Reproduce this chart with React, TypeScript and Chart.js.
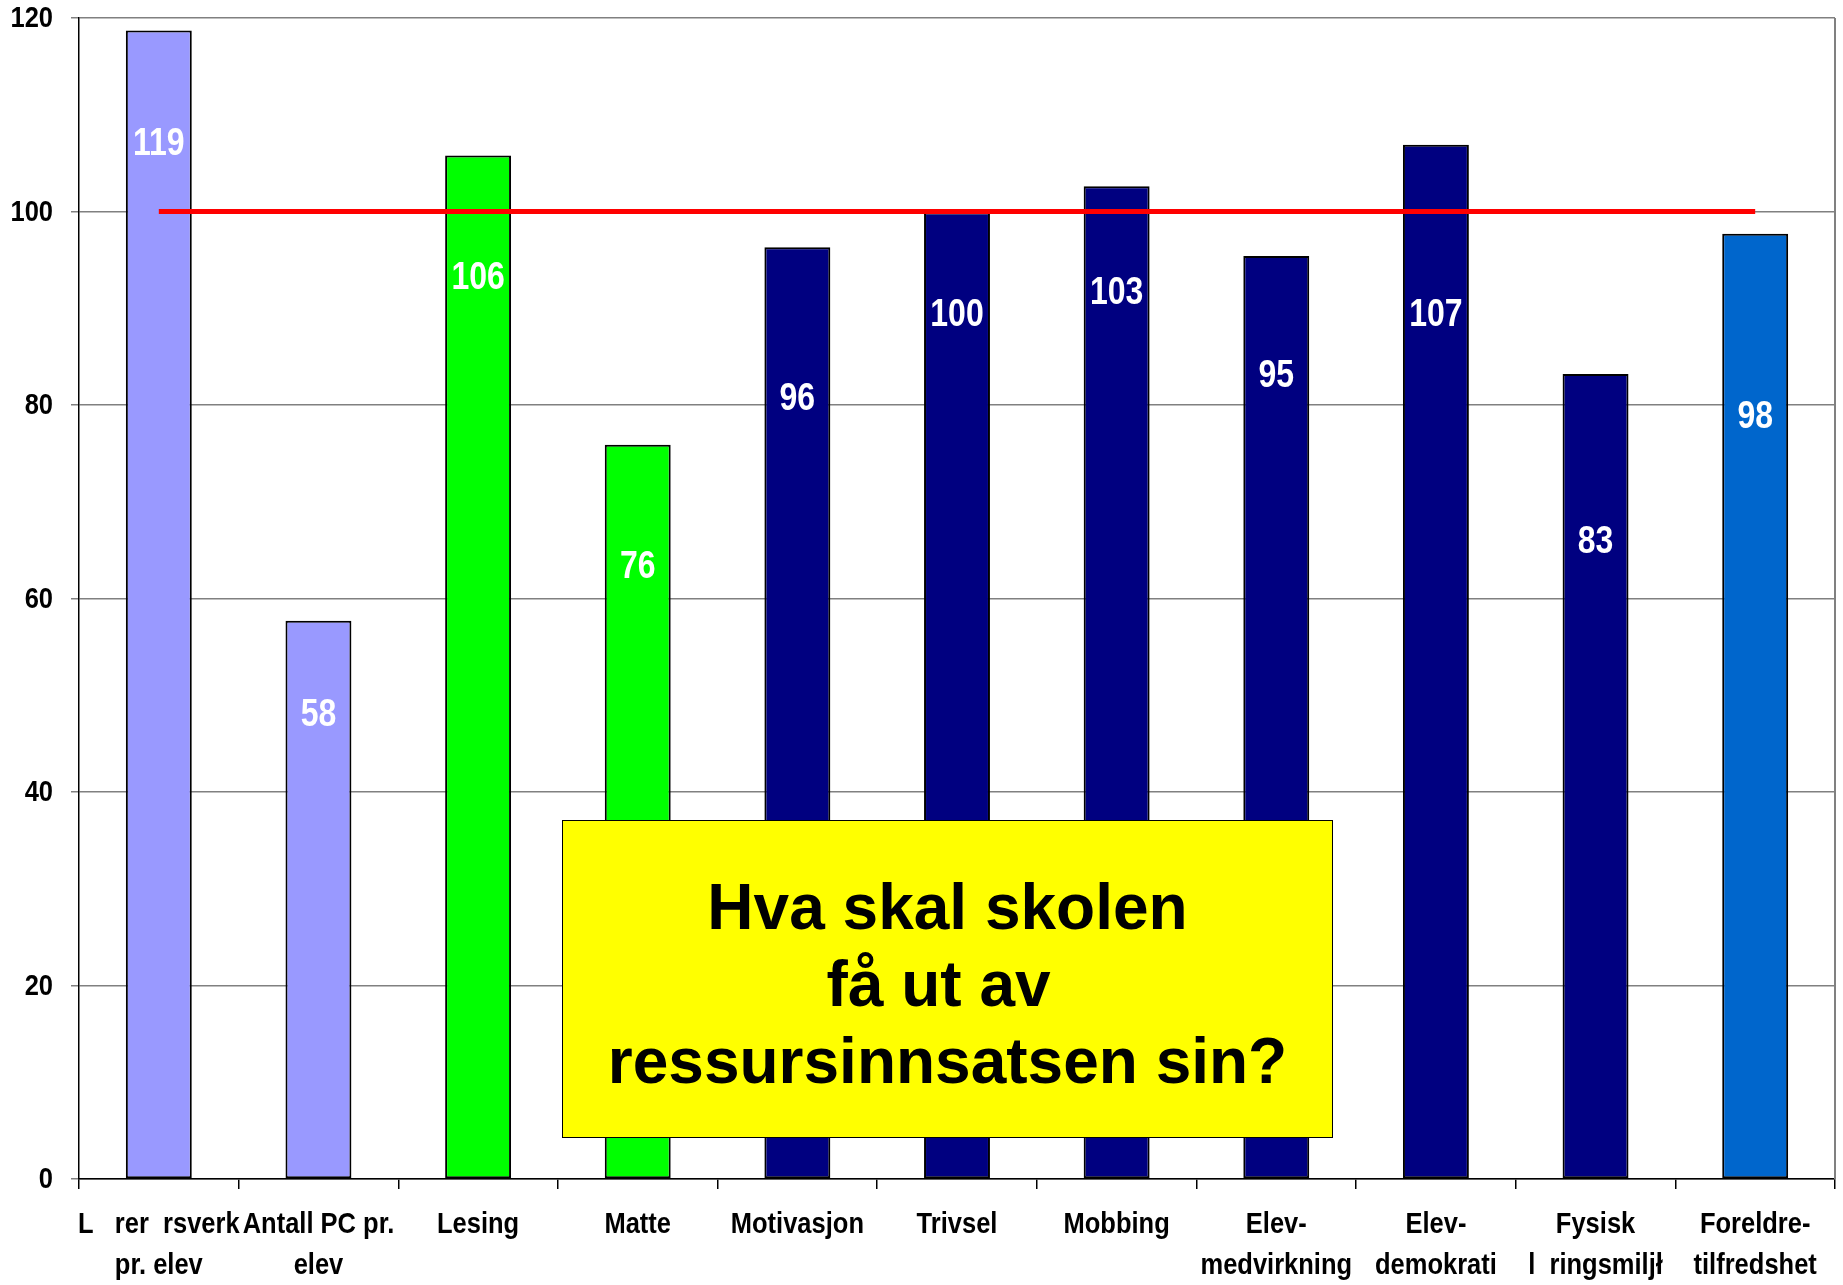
import React, { useEffect, useRef } from "react";
import { Chart, registerables } from "chart.js";

Chart.register(...registerables);

const categories: (string | string[])[] = [
  ["L   rer  rsverk", "pr. elev"],
  ["Antall PC pr.", "elev"],
  "Lesing",
  "Matte",
  "Motivasjon",
  "Trivsel",
  "Mobbing",
  ["Elev-", "medvirkning"],
  ["Elev-", "demokrati"],
  ["Fysisk", "l  ringsmiljł"],
  ["Foreldre-", "tilfredshet"],
];

const indexValues = [118.7, 57.7, 105.8, 75.9, 96.3, 99.9, 102.6, 95.4, 106.9, 83.2, 97.7];
const labelAnchors = [106.9, 47.9, 93.1, 63.2, 80.6, 89.3, 91.5, 83.0, 89.3, 65.8, 78.7];
const referenceLevel = [100, 100, 100, 100, 100, 100, 100, 100, 100, 100, 100];
const barColors = [
  "#9999FF", "#9999FF", "#00FF00", "#00FF00", "#000080", "#000080",
  "#000080", "#000080", "#000080", "#000080", "#0066CC",
];
const yTicks = [0, 20, 40, 60, 80, 100, 120];
const boxLines = ["Hva skal skolen", "få ut av\u00a0", "ressursinnsatsen sin?"];

const FONT = "'Liberation Sans', Arial, sans-serif";

function narrowText(
  ctx: CanvasRenderingContext2D,
  text: string,
  x: number,
  y: number,
  size: number,
  squeeze: number,
  align: CanvasTextAlign,
  color: string
) {
  ctx.save();
  ctx.translate(x, y);
  ctx.scale(squeeze, 1);
  ctx.font = `bold ${size}px ${FONT}`;
  ctx.fillStyle = color;
  ctx.textAlign = align;
  ctx.textBaseline = "middle";
  ctx.fillText(text, 0, 0);
  ctx.restore();
}

const labelPlugin = {
  id: "narrowLabels",
  afterDatasetsDraw(chart: any) {
    const meta = chart.getDatasetMeta(1);
    const y = chart.scales.y;
    const ctx = chart.ctx;
    meta.data.forEach((bar: any, i: number) => {
      narrowText(ctx, String(Math.round(indexValues[i])), bar.x, y.getPixelForValue(labelAnchors[i]), 39, 0.82, "center", "#FFFFFF");
    });
  },
  afterDraw(chart: any) {
    const a = chart.chartArea;
    const ctx = chart.ctx;
    ctx.save();
    ctx.strokeStyle = "#808080";
    ctx.lineWidth = 2;
    ctx.beginPath();
    ctx.moveTo(a.right, a.top);
    ctx.lineTo(a.right, a.bottom);
    ctx.stroke();
    ctx.restore();

    const ys = chart.scales.y;
    yTicks.forEach((v) => {
      narrowText(ctx, String(v), a.left - 26, ys.getPixelForValue(v) + 1, 30, 0.85, "right", "#000000");
    });

    const xs = chart.scales.x;
    categories.forEach((lab, i) => {
      const lines = Array.isArray(lab) ? lab : [lab];
      const px = xs.getPixelForTick(i);
      lines.forEach((ln, j) => {
        narrowText(ctx, ln, px, a.bottom + 46 + j * 41, 30, 0.85, "center", "#000000");
      });
    });
  },
};

export default function App() {
  const ref = useRef<HTMLCanvasElement>(null);
  useEffect(() => {
    if (!ref.current) return;
    const chart = new Chart(ref.current, {
      type: "bar",
      data: {
        labels: categories as any,
        datasets: [
          {
            type: "line" as const,
            data: referenceLevel,
            borderColor: "#FF0000",
            borderWidth: 5,
            pointRadius: 0,
            order: 0,
          } as any,
          {
            type: "bar" as const,
            data: indexValues,
            backgroundColor: barColors,
            borderColor: "#000000",
            borderWidth: 2,
            borderSkipped: false,
            categoryPercentage: 1,
            barPercentage: 0.413,
            order: 1,
          },
        ],
      },
      options: {
        animation: false,
        responsive: true,
        maintainAspectRatio: false,
        layout: { padding: { top: 18, right: 8, left: 0, bottom: 0 } },
        plugins: { legend: { display: false }, tooltip: { enabled: false } },
        scales: {
          x: {
            offset: true,
            grid: {
              display: true,
              drawOnChartArea: false,
              drawTicks: true,
              tickLength: 10,
              offset: true,
              color: "#000000",
              lineWidth: 1.5,
            },
            border: { color: "#000000", width: 1.5 },
            ticks: { display: false, autoSkip: false, maxRotation: 0 },
            afterFit(scale: any) {
              scale.height = 106;
            },
          },
          y: {
            min: 0,
            max: 120,
            afterBuildTicks(scale: any) {
              scale.ticks = yTicks.map((v) => ({ value: v }));
            },
            grid: { color: "#808080", lineWidth: 1.5, tickLength: 8, drawTicks: true },
            border: { color: "#000000", width: 1.5 },
            ticks: { display: false },
            afterFit(scale: any) {
              scale.width = 79;
            },
          },
        },
      },
      plugins: [labelPlugin],
    });
    return () => chart.destroy();
  }, []);

  return (
    <div style={{ position: "fixed", left: 0, top: 0, width: 1843, height: 1285, background: "#fff" }}>
      <canvas ref={ref} />
      <div
        style={{
          position: "absolute",
          left: 562,
          top: 820,
          width: 771,
          height: 318,
          boxSizing: "border-box",
          paddingTop: 10,
          background: "#FFFF00",
          border: "1.5px solid #000",
          display: "flex",
          flexDirection: "column",
          alignItems: "center",
          justifyContent: "center",
          fontFamily: FONT,
          fontWeight: "bold",
          fontSize: 64,
          lineHeight: "77px",
          color: "#000",
          textAlign: "center",
        }}
      >
        {boxLines.map((l, i) => (
          <div key={i} style={{ whiteSpace: "pre" }}>{l}</div>
        ))}
      </div>
    </div>
  );
}
